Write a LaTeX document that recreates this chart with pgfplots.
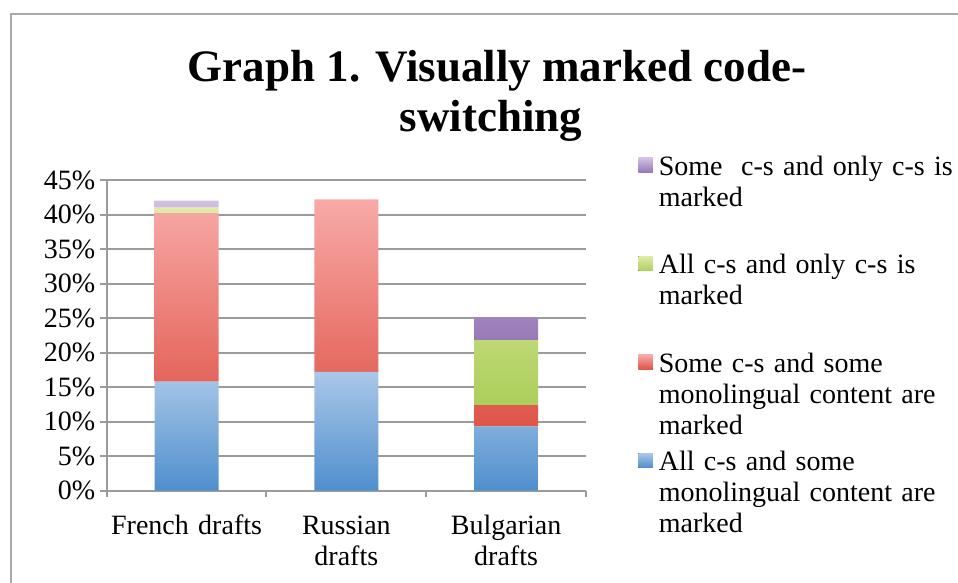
\documentclass[border=0pt]{standalone}
\usepackage{fontspec}
\setmainfont{Liberation Serif}
\usepackage{pgfplots}
\pgfplotsset{compat=1.18}
\definecolor{blueT}{RGB}{170,199,232}
\definecolor{blueB}{RGB}{79,143,205}
\definecolor{redT}{RGB}{248,170,168}
\definecolor{redB}{RGB}{222,84,72}
\definecolor{greenT}{RGB}{224,235,168}
\definecolor{greenB}{RGB}{172,206,90}
\definecolor{purpT}{RGB}{210,192,226}
\definecolor{purpB}{RGB}{150,120,182}
\definecolor{frame}{RGB}{170,170,170}
\definecolor{axgray}{RGB}{155,155,155}
\definecolor{gridgray}{RGB}{155,155,155}
\newcommand\fs{\fontsize{14bp}{15.5bp}\selectfont}
\begin{document}
\begin{tikzpicture}
\useasboundingbox (0,0) rectangle (479bp,291.5bp);
\draw[line width=1bp, color=frame] (5.5bp,0) -- (5.5bp,284.5bp) -- (479bp,284.5bp);
\node[anchor=base, inner sep=0pt, font=\fontsize{22.5bp}{25bp}\selectfont\bfseries] at (248.5bp,250.5bp) {Graph 1. Visually marked code-};
\node[anchor=base, inner sep=0pt, font=\fontsize{22.5bp}{25bp}\selectfont\bfseries] at (245.5bp,225.5bp) {switching};
\begin{axis}[
  at={(53.35bp,46.15bp)}, anchor=south west,
  scale only axis, width=239.65bp, height=155.35bp,
  ybar stacked, bar width=0.4,
  xmin=-0.5, xmax=2.5, ymin=0, ymax=45,
  xtick={0,1,2},
  xticklabels={French drafts, {Russian\\drafts}, {Bulgarian\\drafts}},
  minor xtick={-0.5,0.5,1.5,2.5},
  ytick={0,5,...,45},
  yticklabel={\pgfmathprintnumber{\tick}\%},
  /pgf/number format/assume math mode=true,
  axis x line*=bottom, axis y line*=left,
  axis line style={draw=axgray, line width=1bp},
  tick align=outside,
  major tick length=3.2bp, minor tick length=3.2bp,
  every major x tick/.append style={draw=none},
  every minor x tick/.append style={draw=axgray, line width=1bp},
  every major y tick/.append style={draw=axgray, line width=1bp},
  ymajorgrids, grid style={draw=gridgray, line width=1bp},
  tick label style={font=\fs},
  yticklabel style={xshift=1bp},
  xticklabel style={anchor=base, yshift=-18.8bp, text width=100bp, align=center},
  legend style={
    at={(axis description cs:1.1085,1.0805)}, anchor=north west,
    draw=none, fill=none, inner sep=0pt,
    font=\fs,
    row sep=4.2bp,
    cells={anchor=base west},
    nodes={inner sep=0pt, text height=10bp, text depth=35bp, text width=150bp, align=left, anchor=base west},
    /tikz/every odd column/.append style={column sep=3bp},
  },
  legend image code/.code={\fill[#1] (0bp,1.5bp) rectangle (7.2bp,8.7bp);},
  reverse legend,
]
\addplot[draw=none, top color=blueT, bottom color=blueB] coordinates {(0,15.8) (1,17.2) (2,9.3)};
\addlegendentry{All c-s and some\\monolingual content are\\marked}
\addplot[draw=none, top color=redT, bottom color=redB] coordinates {(0,24.4) (1,25.0) (2,3.1)};
\addlegendentry{Some c-s and some\\monolingual content are\\marked}
\addplot[draw=none, top color=greenT, bottom color=greenB] coordinates {(0,0.8) (1,0) (2,9.4)};
\addlegendentry{All c-s and only c-s is\\marked}
\addplot[draw=none, top color=purpT, bottom color=purpB] coordinates {(0,1.0) (1,0) (2,3.3)};
\addlegendentry{Some\ \ c-s and only c-s is\\marked}
\end{axis}
\end{tikzpicture}
\end{document}
